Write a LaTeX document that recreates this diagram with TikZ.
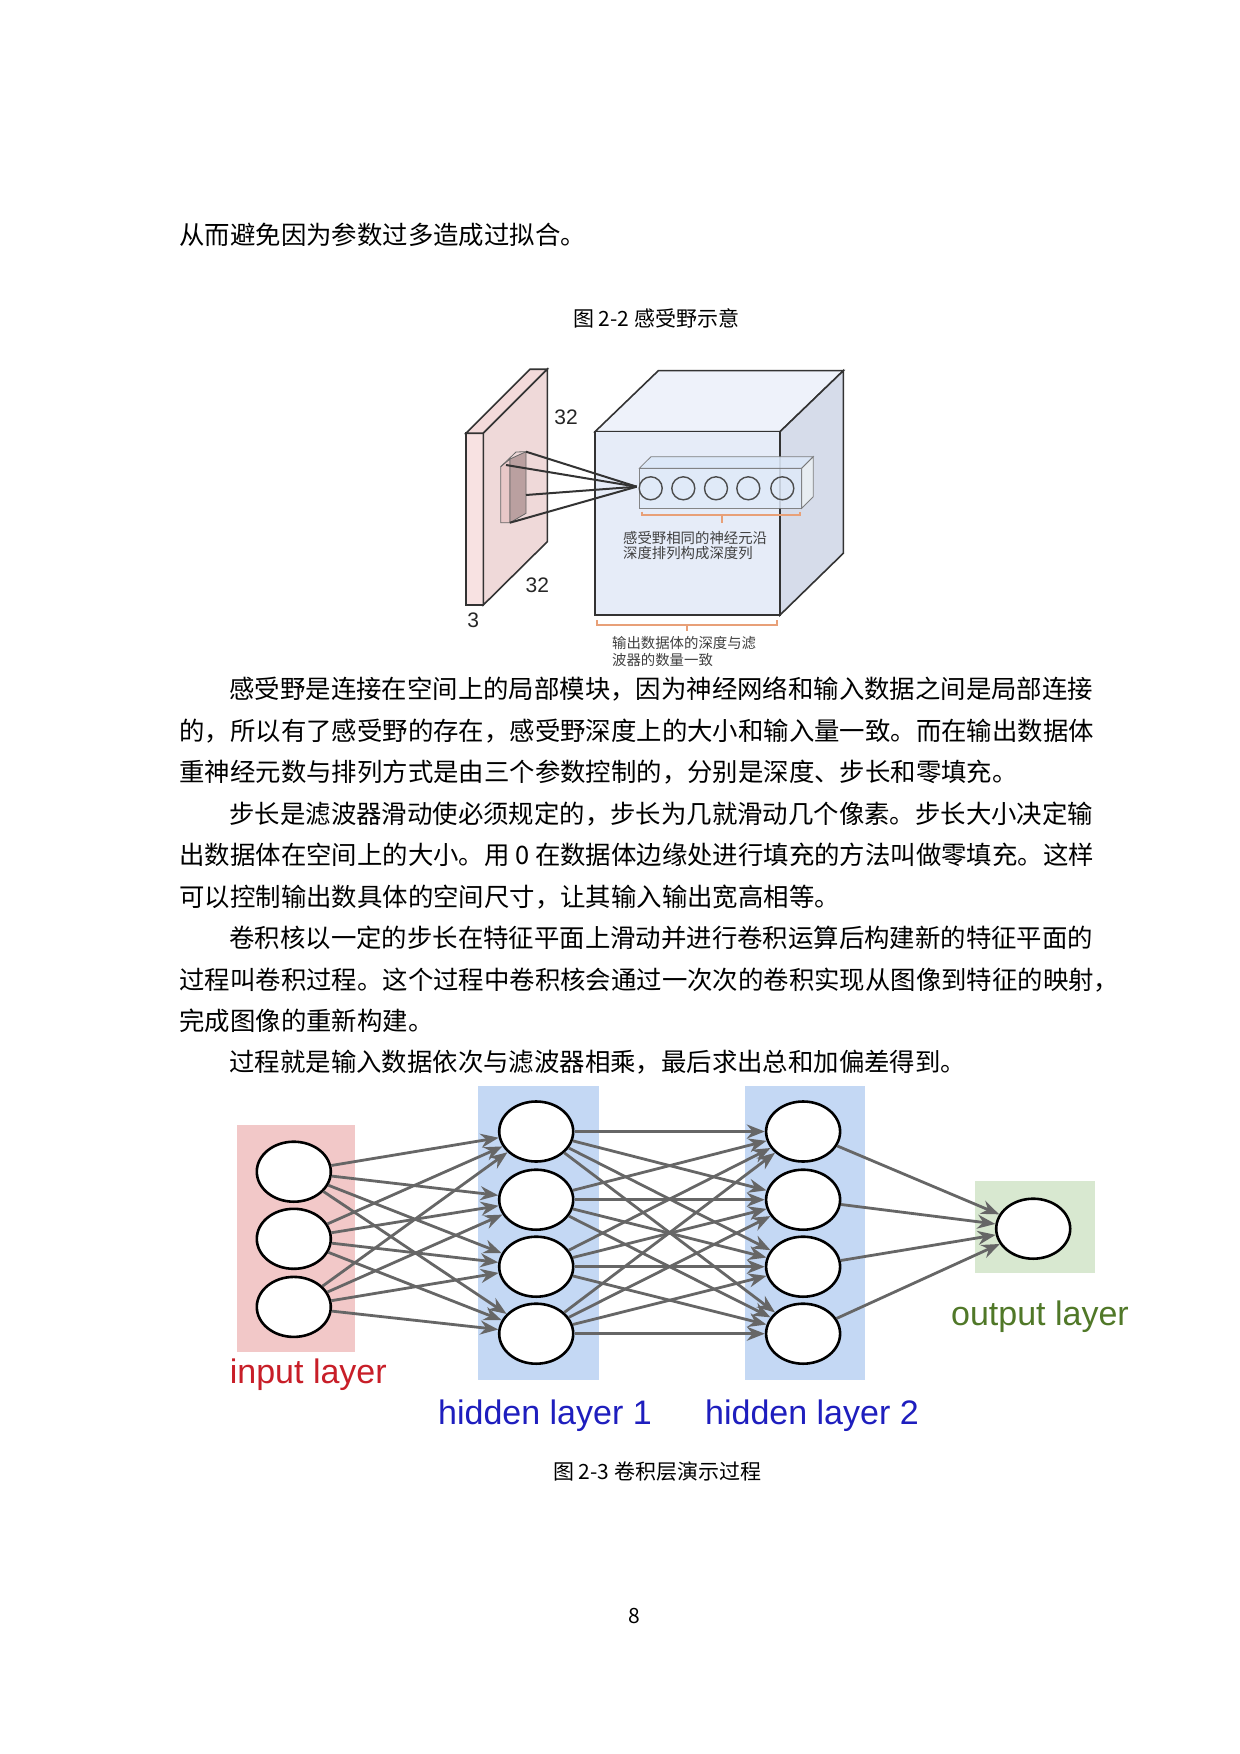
\documentclass[tikz,border=0pt]{standalone}
\usepackage{fontspec}
\newfontfamily\cjk{Noto Sans CJK SC}
\newfontfamily\lsans{Liberation Sans}
\usetikzlibrary{shapes.geometric,arrows.meta}
\definecolor{slabF}{RGB}{248,226,226}
\definecolor{slabS}{RGB}{232,200,200}
\definecolor{cubeF}{RGB}{230,236,248}
\definecolor{cubeR}{RGB}{214,220,234}
\definecolor{cubeT}{RGB}{238,242,250}
\definecolor{brk}{RGB}{232,160,120}
\definecolor{inpk}{RGB}{242,200,200}
\definecolor{hidb}{RGB}{196,216,244}
\definecolor{outg}{RGB}{216,232,208}
\definecolor{redt}{RGB}{200,30,40}
\definecolor{bluet}{RGB}{30,30,190}
\definecolor{greent}{RGB}{80,120,40}
\tikzset{
 body/.style={anchor=west,inner sep=0,font=\cjk\fontsize{12.7}{12.7}\selectfont},
 capt/.style={inner sep=0,font=\cjk\fontsize{10.5}{10.5}\selectfont},
 small/.style={anchor=west,inner sep=0,font=\cjk\fontsize{7.2}{7.2}\selectfont,text=black!75},
 num/.style={inner sep=0,font=\lsans\fontsize{10.5}{10.5}\selectfont,text=black!85},
 neuron/.style={ellipse,draw,line width=1.3pt,fill=white,minimum width=37pt,minimum height=30pt,inner sep=0},
 conn/.style={draw=black!60,line width=1.4pt,-{Stealth[length=9pt,width=7pt]}},
 lay/.style={inner sep=0,font=\lsans\fontsize{17}{17}\selectfont},
 edge3/.style={line width=0.8pt,draw=black!80},
}
\begin{document}
\begin{tikzpicture}[x=0.5pt,y=-0.5pt]
\useasboundingbox[fill=white] (0,0) rectangle (1240,1754);
\node[body] (t0) at (179,235) {从而避免因为参数过多造成过拟合。};
\node[capt] (c1) at (656,318) {图 2-2 感受野示意};
% slab
\filldraw[edge3,fill=slabF] (466,433.3) -- (483.3,433.3) -- (483.3,605) -- (466,605) -- cycle;
\filldraw[edge3,fill=slabF!70!slabS] (466,433.3) -- (530,369.3) -- (547.3,369.3) -- (483.3,433.3) -- cycle;
\filldraw[edge3,fill=slabS!70!white] (483.3,433.3) -- (547.3,369.3) -- (547.3,541.7) -- (483.3,605) -- cycle;
\filldraw[draw=black!60,fill=slabS] (500.7,466.7) -- (510,459) -- (510,522.7) -- (500.7,522.7) -- cycle;
\filldraw[draw=black!60,fill=slabS!80!black] (510,459) -- (526,451.7) -- (526,513.3) -- (510,522.7) -- cycle;
\draw[draw=black!60] (500.7,466.7) -- (516,452) -- (526,451.7);
% cube
\filldraw[edge3,fill=cubeT] (595,431.7) -- (658.3,370.7) -- (843.3,370.7) -- (780,431.7) -- cycle;
\filldraw[edge3,fill=cubeR] (780,431.7) -- (843.3,370.7) -- (843.3,553.3) -- (780,615) -- cycle;
\filldraw[edge3,fill=cubeF] (595,431.7) rectangle (780,615);
% depth column
\filldraw[draw=black!55,fill=hidb!60!white,opacity=0.9] (639.3,468.3) -- (651,456.7) -- (813.3,456.7) -- (801.7,468.3) -- cycle;
\filldraw[draw=black!55,fill=hidb!80!black!20!white,opacity=0.9] (801.7,468.3) -- (813.3,456.7) -- (813.3,496.7) -- (801.7,508.3) -- cycle;
\filldraw[draw=black!55,fill=hidb!55!white,opacity=0.85] (639.3,468.3) rectangle (801.7,508.3);
\foreach \x in {650.7,683.3,716,748.3,782.3}
  \draw[black!70,line width=0.7pt] (\x,488.3) ellipse [x radius=11.5,y radius=11.5];
\foreach \a in {(526,451.7),(506,465),(526,495),(510,522.7)}
  \draw[line width=1pt,black!80] \a -- (636.7,486.7);
% brackets
\draw[brk,line width=0.9pt] (641.7,511.7) -- (641.7,515) -- (800,515) -- (800,511.7) (721.7,515) -- (721.7,523);
\draw[brk,line width=0.9pt] (596.7,620) -- (596.7,625) -- (776.7,625) -- (776.7,620) (686.7,625) -- (686.7,631);
\node[small] (s1) at (622.7,538.3) {感受野相同的神经元沿};
\node[small] (s2) at (622.7,553.3) {深度排列构成深度列};
\node[small] (s3) at (611.7,643.3) {输出数据体的深度与滤};
\node[small] (s4) at (611.7,660) {波器的数量一致};
\node[num] (n1) at (566,417.3) {32};
\node[num] (n2) at (537.3,585.7) {32};
\node[num] (n3) at (473.3,620) {3};
% body text
\node[body] (l1) at (229,689) {感受野是连接在空间上的局部模块，因为神经网络和输入数据之间是局部连接};
\node[body] (l2) at (179,731) {的，所以有了感受野的存在，感受野深度上的大小和输入量一致。而在输出数据体};
\node[body] (l3) at (179,772) {重神经元数与排列方式是由三个参数控制的，分别是深度、步长和零填充。};
\node[body] (l4) at (229,814) {步长是滤波器滑动使必须规定的，步长为几就滑动几个像素。步长大小决定输};
\node[body] (l5) at (179,855) {出数据体在空间上的大小。用 0 在数据体边缘处进行填充的方法叫做零填充。这样};
\node[body] (l6) at (179,897) {可以控制输出数具体的空间尺寸，让其输入输出宽高相等。};
\node[body] (l7) at (229,938) {卷积核以一定的步长在特征平面上滑动并进行卷积运算后构建新的特征平面的};
\node[body] (l8) at (179,980) {过程叫卷积过程。这个过程中卷积核会通过一次次的卷积实现从图像到特征的映射，};
\node[body] (l9) at (179,1021) {完成图像的重新构建。};
\node[body] (l10) at (229,1062) {过程就是输入数据依次与滤波器相乘，最后求出总和加偏差得到。};
% network
\fill[inpk] (236.8,1124.8) rectangle (355.2,1351.6);
\fill[hidb] (478,1085.7) rectangle (598.7,1379.5);
\fill[hidb] (745,1085.7) rectangle (864.6,1379.5);
\fill[outg] (975,1180.7) rectangle (1094.7,1273.4);
\foreach \i/\y in {1/1171.7,2/1238.8,3/1306.9} \node[neuron] (i\i) at (293.8,\y) {};
\foreach \i/\y in {1/1131.5,2/1199.7,3/1266.7,4/1333.7} {
  \node[neuron] (a\i) at (536.2,\y) {};
  \node[neuron] (b\i) at (803.1,\y) {};
}
\node[neuron] (o) at (1033.2,1228.7) {};
\foreach \i in {1,2,3} \foreach \j in {1,2,3,4} \path[conn] (i\i) -- (a\j);
\foreach \i in {1,2,3,4} \foreach \j in {1,2,3,4} \path[conn] (a\i) -- (b\j);
\foreach \i in {1,2,3,4} \path[conn] (b\i) -- (o);
\node[lay,text=redt] (L1) at (308.3,1375) {input layer};
\node[lay,text=bluet] (L2) at (545,1415.2) {hidden layer 1};
\node[lay,text=bluet] (L3) at (812,1415.2) {hidden layer 2};
\node[lay,text=greent] (L4) at (1040,1317) {output layer};
\node[capt] (c2) at (657,1472) {图 2-3 卷积层演示过程};
\node[capt] (pg) at (634,1616) {8};
\end{tikzpicture}
\end{document}
